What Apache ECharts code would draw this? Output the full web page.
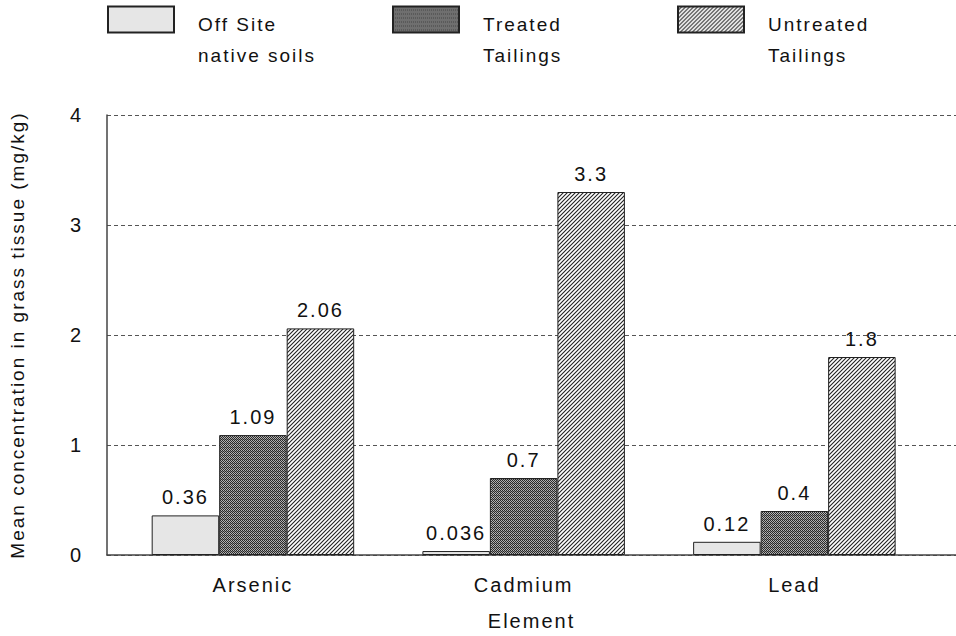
<!DOCTYPE html>
<html>
<head>
<meta charset="utf-8">
<script src="https://cdn.jsdelivr.net/npm/echarts@6/dist/echarts.min.js"></script>
<style>
  html, body { margin: 0; padding: 0; background: #fff; }
  #chart { width: 956px; height: 636px; }
  /* the scanned original has loosely spaced lettering */
  #chart text { letter-spacing: 2px; }
</style>
</head>
<body>
<div id="chart"></div>
<script>
// data
const categories = ['Arsenic', 'Cadmium', 'Lead'];
const seriesNames = ['Off Site\nnative soils', 'Treated\nTailings', 'Untreated\nTailings'];
const offSite = [0.36, 0.036, 0.12];
const treated = [1.09, 0.7, 0.4];
const untreated = [2.06, 3.3, 1.8];
const yTicks = [0, 1, 2, 3, 4];

const font = 'Liberation Sans';

// fill patterns like the print version
function checkerPattern() {
  const c = document.createElement('canvas');
  c.width = 4; c.height = 4;
  const g = c.getContext('2d');
  g.fillStyle = '#b4b4b4';
  g.fillRect(0, 0, 4, 4);
  g.fillStyle = '#2a2a2a';
  for (let y = 0; y < 4; y++) {
    for (let x = 0; x < 4; x++) {
      if ((x + y) % 2 === 0) g.fillRect(x, y, 1, 1);
    }
  }
  g.fillStyle = 'rgba(40,40,40,0.3)';
  g.fillRect(0, 3, 4, 1);
  return c.toDataURL();
}
function hatchPattern() {
  const c = document.createElement('canvas');
  c.width = 4; c.height = 4;
  const g = c.getContext('2d');
  g.fillStyle = '#ffffff';
  g.fillRect(0, 0, 4, 4);
  g.strokeStyle = '#222';
  g.lineWidth = 1.1;
  g.beginPath();
  g.moveTo(-1, 5); g.lineTo(5, -1);
  g.moveTo(-1, 1); g.lineTo(1, -1);
  g.moveTo(3, 5); g.lineTo(5, 3);
  g.stroke();
  return c.toDataURL();
}

const fills = [
  '#e6e6e6',
  { image: checkerPattern(), repeat: 'repeat' },
  { image: hatchPattern(), repeat: 'repeat' }
];
const values = [offSite, treated, untreated];

let myChart = echarts.init(document.getElementById('chart'), null, { renderer: 'svg' });

const legendLefts = [107, 392, 677];
let legends = seriesNames.map((n, i) => ({
  data: [n],
  left: legendLefts[i],
  top: -21,
  padding: 0,
  itemWidth: 66,
  itemHeight: 26,
  icon: 'rect',
  selectedMode: false,
  // blank first line pushes the two text lines below the box centre
  formatter: name => '{s| }\n' + name.split('\n').map(t => '{t|' + t + '}').join('\n'),
  textStyle: {
    fontFamily: font,
    fontSize: 19,
    color: '#111',
    padding: [0, 0, 0, 19],
    rich: {
      s: { lineHeight: 41, fontSize: 19, fontFamily: font },
      t: { lineHeight: 31, fontSize: 19, fontFamily: font, color: '#111' }
    }
  }
}));

let option = {
  animation: false,
  backgroundColor: '#fff',
  legend: legends,
  grid: {
    left: 107,
    right: 0,
    top: 115,
    bottom: 78
  },
  xAxis: {
    type: 'value',
    min: -0.539,
    max: 2.597,
    name: 'Element',
    nameLocation: 'middle',
    nameGap: 56,
    nameTextStyle: { fontFamily: font, fontSize: 20, color: '#111' },
    axisLine: { show: true, onZero: false, lineStyle: { color: '#444', width: 1.5 } },
    axisTick: { show: false },
    splitLine: { show: false },
    axisLabel: {
      customValues: [0, 1, 2],
      formatter: v => categories[Math.round(v)],
      fontFamily: font,
      fontSize: 20,
      color: '#111',
      margin: 20
    }
  },
  yAxis: {
    type: 'value',
    min: 0,
    max: 4,
    interval: 1,
    name: 'Mean concentration in grass tissue (mg/kg)',
    nameLocation: 'middle',
    nameGap: 80,
    nameTextStyle: { fontFamily: font, fontSize: 19, color: '#111' },
    axisLine: { show: true, onZero: false, lineStyle: { color: '#444', width: 1.5 } },
    axisTick: { show: false },
    axisLabel: {
      customValues: yTicks,
      fontFamily: font,
      fontSize: 20,
      color: '#111',
      margin: 24
    },
    splitLine: {
      lineStyle: { color: '#555', type: [4, 3], width: 1.2 }
    }
  },
  series: values.map((vals, i) => ({
    name: seriesNames[i],
    type: 'bar',
    barWidth: 67.5,
    barGap: '0%',
    data: vals.map((v, k) => [k, v]),
    itemStyle: {
      color: fills[i],
      borderColor: '#222',
      borderWidth: 1
    },
    label: {
      show: true,
      position: 'top',
      distance: 8,
      fontFamily: font,
      fontSize: 20,
      color: '#111',
      formatter: p => p.value[1]
    }
  }))
};

myChart.setOption(option);
</script>
</body>
</html>
